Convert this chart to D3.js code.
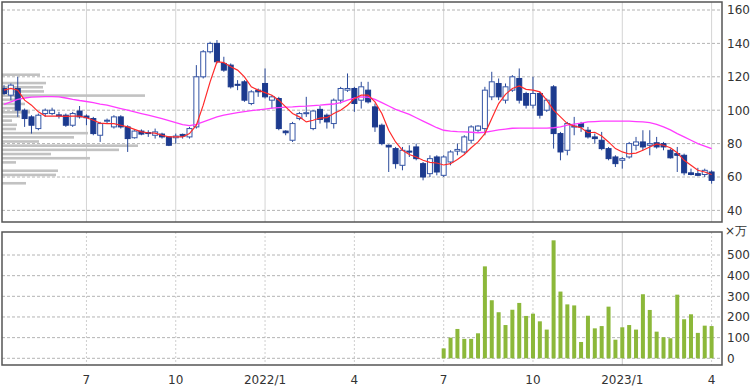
<!DOCTYPE html>
<html>
<head>
<meta charset="utf-8">
<script src="https://cdn.jsdelivr.net/npm/d3@7"></script>
<style>
  body { margin: 0; background: #fff; }
  svg { display: block; }
  text { font-family: "DejaVu Sans", Verdana, sans-serif; font-size: 12px; fill: #333; }
</style>
</head>
<body>
<svg id="chart" width="750" height="386"></svg>
<script>
// weekly candles, first week 2021-04-12
const firstWeek = new Date(2021, 3, 12);

const open  = [113,109,113,100,96,89,98,98,97.2,97,91,99.5,96.5,95,85,93.5,90,96,90,83.5,87.5,86.6,85,85.7,84,83.5,85.5,84,90,120,135,140,128,127,115.5,117,104,112,116,106,107,87.5,82,95,98,89,100.5,97,92,106,112,113,106,112,102,91,79,77,67,75.5,78,68,62,72,61,69,75.5,75,82,88,89,108,116,106,112,119,110,103,110,100,114,86,76,90,92,88,84,82,77,72,70,72,79,81,79,80.5,80,76,74,73,62.5,62,61.5,63];
const high  = [115,116,120,101,97,98,101,101.5,99,98,99,102.5,97.5,96,93,95,97,97,91,88,88.5,88,89,86.5,84.5,86,86,90,127,136,141,142,132,128,118,118,112,113,125,109,108,88,93,99,108,100,102.5,98,107,114,122,114,117,117,104,92,79.5,78,78,79,80,69,73,73,73,76,80,85,91,91,114,123,119,116,121,125,111,120,111,107,115,87,93,96,93,90,86,87,78,73,72,81,84,88,88,84,81,77,78,74,65,65.5,65,64];
const low   = [109,106,96,90,86,88,96,97,95,90,90,95,91,85,81,92,89,89,75,83,85,84,83,83,78.5,80,83,83,89,119,134,128,123,113,112,105,103,108,107,101,88,85,81,94,96,88,92,89,89,104,111,99,101,104,87,79,63,65,64,72,70,58,60,61,60,67,73,74,80,87,85,106,106,104,111,104,101,101,95,99,77,70,73,85,87,83,80,76,70,66,65,71,76,76,73,77,76,71,63,61,61,60.5,60,56];
const close = [110,115,100,95,91,97,100,100,96.8,91,98,96,95.5,86,92,94,96,90,83,87.5,85.7,86.2,87,84,79,84.5,84.5,89,120,135,140,129,124,114,115,106,111,111,108,108,89,86.5,92,98,98.5,99.5,94.5,93,106,113,113,104,114,105,90,80,78,68,76,75,71,60,71,63,72,75,76.5,84,90,90.5,112,117,108,114,120,106,103,110,97,106,86,75,92,90.5,90,84,83,77,71,68,71,80,81,78,80,78,78,71.5,73,62.5,61.5,61,64,58];

// moving averages (red = short, magenta = long)
const maShort = [112,113,112,106,103,99,96.5,96.5,96.5,96.3,96.5,96.5,95.5,94,92.3,92,92,91,90,88.5,87,86.5,86.3,85,84,84,84,86,91,103,117,129,128.5,126,124,120,114,112,110.5,109,106,102,98,96,93,94,95.3,95.5,98,100,103,107,109,109,105,98,88,81,76,73.5,72,70,68.8,68.4,67.2,68,70.5,73.5,77.5,81,86,95,104,109.5,113,114.5,112.5,112,111,106,100,96,92,90.5,89.5,86.5,86.8,84.5,81,77,75,73.8,74.3,76,78,79.8,79,77.5,74.5,70,67,64,63,61.5];
const maLong  = [103.5,105,106.5,107.3,107.8,108,108.1,108.1,108,107.3,106.5,105.8,105.2,104.5,103.7,103,102,101,100,99,98,97,96,95,93.8,92.5,91.3,90.8,91.5,93,94.5,96,97,97.8,98.5,99.2,99.7,100.2,100.7,101.2,101.5,101.8,102,102.3,102.5,102.8,103,103.4,103.7,104.5,106,107.3,108,107.8,106.5,104.5,102.5,100.5,99,97.5,95.5,93.5,91.5,89.5,88,87.5,87.2,87,86.8,86.5,86.8,87.5,88.2,88.7,89.2,89.3,89.3,89.3,89.3,89.3,89.5,90,91,91.7,92.3,93,93.2,93.4,93.5,93.5,93.5,93.4,93.2,93,92.5,91.5,90,88.2,86,84,82,80,78.5,77];

// volume (x10,000 shares), only from week 64 (2022-07-04) on
const volumeFromWeek = 64;
const volume = [48,100,142,94,94,121,445,281,223,161,235,268,205,216,179,139,571,323,261,256,79,206,145,156,250,90,150,161,139,310,234,129,102,97,308,189,213,123,158,156];

// volume by price (left side profile)
const profilePrice = [121.25,116.25,113.75,111.25,108.75,106.25,103.75,101.25,98.75,96.25,93.75,91.25,88.75,86.25,83.75,81.25,78.75,76.25,73.75,71.25,68.75,63.75,61.25,56.25];
const profileVol   = [38,44,41,42,143,18,23,13,28,18,10,15,14,86,72,37,136,117,49,88,14,56,54,24];

const priceTicks = [40,60,80,100,120,140,160];
const volTicks = [0,100,200,300,400,500];
const monthTicks = [new Date(2021,6,5), new Date(2021,9,4), new Date(2022,0,3), new Date(2022,3,4),
                    new Date(2022,6,4), new Date(2022,9,3), new Date(2023,0,2), new Date(2023,3,3)];
const monthLabels = ['7','10','2022/1','4','7','10','2023/1','4'];

const weeks = open.map((d, i) => d3.timeDay.offset(firstWeek, 7 * i));
const candles = weeks.map((w, i) => ({date: w, o: open[i], h: high[i], l: low[i], c: close[i]}));

const svg = d3.select('#chart');
const L = 2, R = 722;
const top1 = 2, bot1 = 222, top2 = 232, bot2 = 365;

const x = d3.scaleTime().domain([weeks[0], weeks[weeks.length - 1]]).range([4, 711.6]);
const y = d3.scaleLinear().domain([40, 160]).range([210.4, 10]);
const yv = d3.scaleLinear().domain([0, 500]).range([358.3, 255]);
const px = d3.scaleLinear().domain([0, 100]).range([0, 100]);

svg.append('defs').append('clipPath').attr('id', 'clipTop')
  .append('rect').attr('x', L).attr('y', top1).attr('width', R - L).attr('height', bot1 - top1);

// --- price panel ---
const g1 = svg.append('g').attr('clip-path', 'url(#clipTop)');

g1.selectAll('.vgrid').data(monthTicks).enter().append('line')
  .attr('x1', d => x(d)).attr('x2', d => x(d))
  .attr('y1', top1).attr('y2', bot1)
  .attr('stroke', '#d4d4d4').attr('stroke-width', 1);

g1.selectAll('.hgrid').data(priceTicks).enter().append('line')
  .attr('x1', L).attr('x2', R)
  .attr('y1', d => y(d)).attr('y2', d => y(d))
  .attr('stroke', '#b4b4b4').attr('stroke-dasharray', '3,2');

g1.selectAll('.prof').data(profilePrice).enter().append('rect')
  .attr('x', L)
  .attr('y', d => y(d) - 1.3)
  .attr('width', (d, i) => px(profileVol[i]))
  .attr('height', 2.6)
  .attr('fill', '#c2c2c2');

const cg = g1.selectAll('.candle').data(candles).enter().append('g');
cg.append('line')
  .attr('x1', d => x(d.date)).attr('x2', d => x(d.date))
  .attr('y1', d => y(d.h)).attr('y2', d => y(d.l))
  .attr('stroke', '#2a4a9a').attr('stroke-width', 1);
cg.append('rect')
  .attr('x', d => x(d.date) - 2.5)
  .attr('y', d => y(Math.max(d.o, d.c)))
  .attr('width', 5)
  .attr('height', d => Math.max(1, Math.abs(y(d.o) - y(d.c))))
  .attr('fill', d => d.c < d.o ? '#1c3a8e' : '#fff')
  .attr('stroke', d => d.c < d.o ? '#1c3a8e' : '#3656a6')
  .attr('stroke-width', 1);

const line = d3.line().x((d, i) => x(weeks[i])).y(d => y(d));
g1.append('path').datum(maLong).attr('d', line)
  .attr('fill', 'none').attr('stroke', '#ff3cff').attr('stroke-width', 1.3);
g1.append('path').datum(maShort).attr('d', line)
  .attr('fill', 'none').attr('stroke', '#ff2a2a').attr('stroke-width', 1.2);

svg.append('rect').attr('x', L).attr('y', top1).attr('width', R - L).attr('height', bot1 - top1)
  .attr('fill', 'none').attr('stroke', '#555').attr('stroke-width', 1.5);

svg.selectAll('.plabel').data(priceTicks).enter().append('text')
  .attr('x', 727).attr('y', d => y(d)).attr('dy', '0.36em')
  .text(d => d);

// --- volume panel ---
const g2 = svg.append('g');
g2.selectAll('.vgrid2').data(monthTicks).enter().append('line')
  .attr('x1', d => x(d)).attr('x2', d => x(d))
  .attr('y1', top2).attr('y2', bot2)
  .attr('stroke', (d, i) => monthLabels[i] === '2023/1' ? '#c8c8c8' : '#cfcfcf')
  .attr('stroke-dasharray', (d, i) => monthLabels[i] === '2023/1' ? null : '2,2');

g2.selectAll('.hgrid2').data(volTicks).enter().append('line')
  .attr('x1', L).attr('x2', R)
  .attr('y1', d => yv(d)).attr('y2', d => yv(d))
  .attr('stroke', '#b4b4b4').attr('stroke-dasharray', '3,2');

g2.selectAll('.vbar').data(volume).enter().append('rect')
  .attr('x', (d, i) => x(weeks[volumeFromWeek + i]) - 2)
  .attr('y', d => yv(d))
  .attr('width', 4)
  .attr('height', d => yv(0) - yv(d))
  .attr('fill', '#8cb83a');

svg.append('rect').attr('x', L).attr('y', top2).attr('width', R - L).attr('height', bot2 - top2)
  .attr('fill', 'none').attr('stroke', '#555').attr('stroke-width', 1.5);

svg.selectAll('.vlabel').data(volTicks).enter().append('text')
  .attr('x', 727).attr('y', d => yv(d)).attr('dy', '0.36em')
  .text(d => d);
svg.append('text').attr('x', 725).attr('y', 231).attr('dy', '0.36em').text('×万');

// --- month axis ---
svg.selectAll('.xlabel').data(monthTicks).enter().append('text')
  .attr('x', d => x(d)).attr('y', 380).attr('dy', '0.36em')
  .attr('text-anchor', 'middle')
  .text((d, i) => monthLabels[i]);
</script>
</body>
</html>
